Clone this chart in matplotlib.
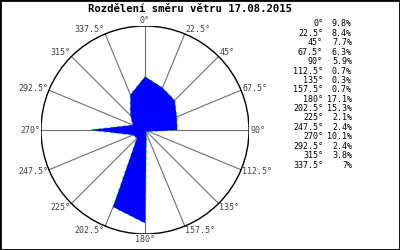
import numpy as np
import matplotlib.pyplot as plt
from matplotlib.patches import Circle, Rectangle

# wind direction distribution
directions = [0, 22.5, 45, 67.5, 90, 112.5, 135, 157.5,
              180, 202.5, 225, 247.5, 270, 292.5, 315, 337.5]
percent = [9.8, 8.4, 7.7, 6.3, 5.9, 0.7, 0.3, 0.7,
           17.1, 15.3, 2.1, 2.4, 10.1, 2.4, 3.8, 7.0]
title = 'Rozdělení směru větru 17.08.2015'

R = 19.1  # radius of outer circle in percent

fig = plt.figure(figsize=(4, 2.5), dpi=100)
fig.patch.set_facecolor('white')
# axes so that centre is at (145,130) px and R -> 104 px
ax = fig.add_axes([(145 - 104) / 400, (250 - 130 - 104) / 250, 208 / 400, 208 / 250])
ax.set_xlim(-R, R)
ax.set_ylim(-R, R)
ax.axis('off')

th = np.radians(directions)
x = np.array(percent) * np.sin(th)
y = np.array(percent) * np.cos(th)

# spokes and labels
for d, t in zip(directions, th):
    s, c = np.sin(t), np.cos(t)
    ax.plot([0, R * s], [0, R * c], color='#707070', lw=0.8, zorder=1)
    ha = 'left' if s > 0.1 else ('right' if s < -0.1 else 'center')
    rr = R * 1.01
    ax.text(rr * s, rr * c + 0.73 * c, '%g°' % d, ha=ha, va='center', fontsize=6,
            family='DejaVu Sans Mono', color='#404040', clip_on=False)

ax.add_patch(Circle((0, 0), R, fill=False, edgecolor='black', lw=1.0, zorder=2))

# rose polygon
xc = np.append(x, x[0])
yc = np.append(y, y[0])
ax.plot(xc, yc, color='#00ff00', lw=0.9, ls=(0, (2, 3)), zorder=3)
ax.fill(x, y, color='#0000ff', lw=0, zorder=4)

fig.text(190 / 400, 1 - 9 / 250, title, ha='center', va='center', fontsize=7.7,
         family='DejaVu Sans Mono', fontweight='bold')

# legend table
for i, (d, p) in enumerate(zip(directions, percent)):
    yy = 1 - (24 + i * 9.4) / 250
    fig.text(323 / 400, yy, '%g°' % d, ha='right', va='center', fontsize=6,
             family='DejaVu Sans Mono')
    fig.text(352 / 400, yy, '%g%%' % p, ha='right', va='center', fontsize=6,
             family='DejaVu Sans Mono')

fig.patches.append(Rectangle((0, 0), 1, 1, transform=fig.transFigure, fill=False,
                             edgecolor='black', lw=2))

fig.savefig('out.png', dpi=100)
plt.close('all')
